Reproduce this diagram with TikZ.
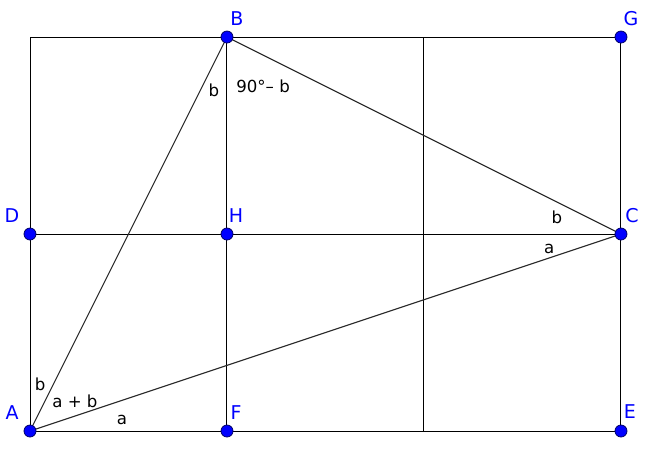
\documentclass[tikz,border=0pt]{standalone}
\usepackage{fontspec}
\setmainfont{DejaVu Sans}
\usetikzlibrary{positioning}
\definecolor{ptblue}{RGB}{0,0,255}
\tikzstyle{point} = [circle, fill=ptblue, draw=black!60!blue, line width=0.4pt, inner sep=0pt, minimum size=6pt]
\tikzstyle{ptname} = [text=ptblue, inner sep=0pt, font=\fontsize{9.5}{10}\selectfont]
\tikzstyle{angle} = [inner sep=0pt, font=\fontsize{8.3}{9}\selectfont]

\begin{document}
\begin{tikzpicture}[x=98.5pt,y=98.5pt]
    \useasboundingbox (-0.1523,-0.0964) rectangle (3.132,2.188);
        \coordinate (A) at (0,0);
        \coordinate (F) at (1,0);
        \coordinate (M) at (2,0);
        \coordinate (E) at (3,0);
        \coordinate (D) at (0,1);
        \coordinate (H) at (1,1);
        \coordinate (C) at (3,1);
        \coordinate (T) at (0,2);
        \coordinate (B) at (1,2);
        \coordinate (N) at (2,2);
        \coordinate (G) at (3,2);
    \begin{scope}[line width=0.5pt]
        \draw (A) -- (E) -- (G) -- (T) -- cycle;
        \draw (D) -- (C);
        \draw (F) -- (B);
        \draw (M) -- (N);
    \end{scope}
    \begin{scope}[line width=0.55pt, black!85]
        \draw (A) -- (B);
        \draw (A) -- (C);
        \draw (B) -- (C);
    \end{scope}
        \node[point] (pA) at (A) {};
        \node[point] (pB) at (B) {};
        \node[point] (pC) at (C) {};
        \node[point] (pD) at (D) {};
        \node[point] (pE) at (E) {};
        \node[point] (pF) at (F) {};
        \node[point] (pG) at (G) {};
        \node[point] (pH) at (H) {};
        \node[ptname] (lA) at ([shift={(-9pt,9pt)}]A) {A};
        \node[ptname] (lD) at ([shift={(-9pt,9pt)}]D) {D};
        \node[ptname] (lB) at ([shift={(5pt,9pt)}]B) {B};
        \node[ptname] (lG) at ([shift={(5pt,9pt)}]G) {G};
        \node[ptname] (lC) at ([shift={(5.5pt,9pt)}]C) {C};
        \node[ptname] (lH) at ([shift={(4.5pt,9pt)}]H) {H};
        \node[ptname] (lF) at ([shift={(4.5pt,9pt)}]F) {F};
        \node[ptname] (lE) at ([shift={(4.5pt,9.5pt)}]E) {E};
        \node[angle] (bA) at (0.051,0.239) {b};
        \node[angle] (abA) at (0.228,0.152) {a + b};
        \node[angle] (aA) at (0.467,0.056) {a};
        \node[angle] (bB) at (0.934,1.731) {b};
        \node[angle] (cB) at (1.183,1.751) {90°– b};
        \node[angle] (bC) at (2.675,1.086) {b};
        \node[angle] (aC) at (2.635,0.924) {a};
\end{tikzpicture}
\end{document}
